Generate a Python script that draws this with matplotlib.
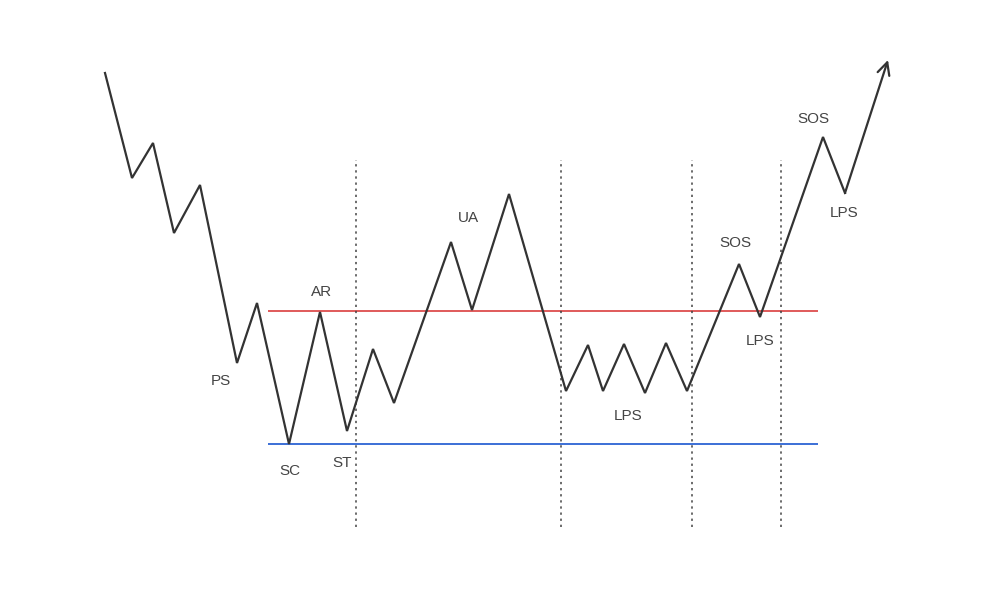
import matplotlib
matplotlib.use('Agg')
import matplotlib.pyplot as plt

# Wyckoff accumulation schematic (x = time, y = price, in chart units)
time = [105, 132, 153, 174, 200, 237, 257, 289, 320, 347, 373, 394,
        451, 472, 509, 566, 588, 603, 624, 645, 666, 687, 739, 760, 823, 845]
price = [527, 422, 457, 367, 415, 237, 297, 156, 288, 169, 251, 197,
         358, 290, 406, 209, 255, 209, 256, 207, 257, 209, 336, 283, 463, 407]
arrow_end = (888, 540)

resistance = 289   # red line
support = 156      # blue line
range_x = (268, 818)

phase_lines = [356, 561, 692, 781]
phase_y = (73, 440)

labels = ['PS', 'SC', 'AR', 'ST', 'UA', 'LPS', 'SOS', 'LPS', 'SOS', 'LPS']
label_x = [221, 290, 322, 342, 468, 628, 735, 760, 813, 844]
label_y = [219, 129, 308, 137, 382, 184, 357, 259, 481, 387]

fig = plt.figure(figsize=(10, 6), dpi=100)
ax = fig.add_axes([0, 0, 1, 1])
ax.set_xlim(0, 1000)
ax.set_ylim(0, 600)
ax.axis('off')

ax.hlines(resistance, *range_x, color='#e05a5a', lw=1.4)
ax.hlines(support, *range_x, color='#3b6fd6', lw=1.4)
ax.vlines(phase_lines, *phase_y, color='#444444', lw=1.1, linestyles=(0, (1.5, 2.5)))

ax.plot(time, price, color='#333333', lw=1.6, solid_joinstyle='miter')
ax.annotate('', xy=arrow_end, xytext=(time[-1], price[-1]),
            arrowprops=dict(arrowstyle='->', color='#333333', lw=1.6,
                            mutation_scale=22, shrinkA=0, shrinkB=0))

for t, x, y in zip(labels, label_x, label_y):
    ax.text(x, y, t, ha='center', va='center', fontsize=11,
            color='#444444', family='Liberation Sans')

fig.savefig('out.png', dpi=100, facecolor='white')
